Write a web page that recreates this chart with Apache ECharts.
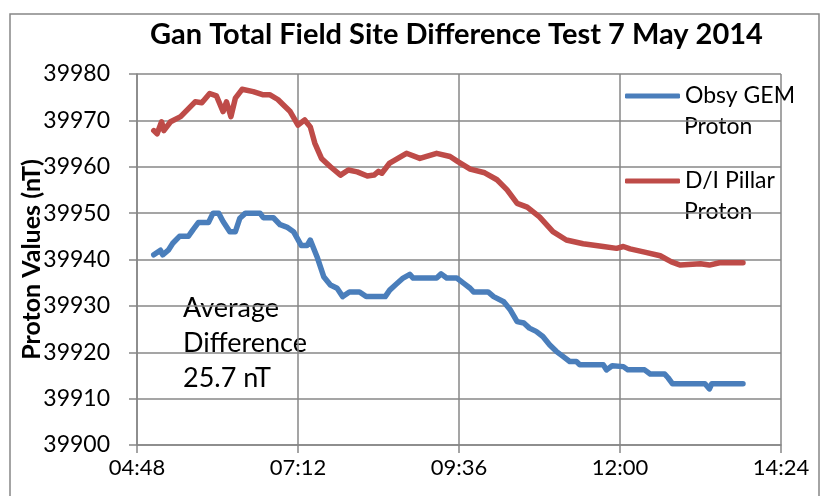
<!DOCTYPE html>
<html>
<head>
<meta charset="utf-8">
<title>Gan Total Field Site Difference Test</title>
<script src="https://cdn.jsdelivr.net/npm/echarts@6.0.0/dist/echarts.min.js"></script>
<style>
	html, body { margin: 0; padding: 0; background: #fff; }
	#chart { width: 829px; height: 496px; }
</style>
</head>
<body>
<div id="chart"></div>
<script>
	// x tick labels (every 2h24m)
	var xTicks = ['04:48', '07:12', '09:36', '12:00', '14:24'];
	var yTicks = [39900, 39910, 39920, 39930, 39940, 39950, 39960, 39970, 39980];

	// Obsy GEM Proton
	var gemTimes = ['05:03', '05:09', '05:11', '05:16', '05:20', '05:26', '05:34', '05:38', '05:43', '05:52',
		'05:56', '06:01', '06:05', '06:11', '06:16', '06:20', '06:25', '06:38', '06:41', '06:50',
		'06:56', '07:02', '07:08', '07:15', '07:20', '07:23', '07:29', '07:35', '07:41', '07:47',
		'07:52', '07:58', '08:07', '08:13', '08:30', '08:34', '08:40', '08:46', '08:52', '08:55',
		'09:16', '09:20', '09:25', '09:34', '09:40', '09:46', '09:49', '10:02', '10:07', '10:16',
		'10:22', '10:28', '10:34', '10:39', '10:45', '10:51', '10:57', '11:03', '11:09', '11:15',
		'11:21', '11:24', '11:45', '11:48', '11:53', '12:03', '12:07', '12:22', '12:27', '12:40',
		'12:43', '12:47', '13:16', '13:20', '13:22', '13:50'];
	var gemValues = [39941, 39942, 39941, 39942, 39943.5, 39945, 39945, 39946.4, 39948, 39948,
		39950, 39950, 39948.2, 39946, 39946, 39948.9, 39950, 39950, 39949, 39949,
		39947.5, 39947, 39946, 39943, 39943, 39944.2, 39940.6, 39936.3, 39934.5, 39933.8,
		39932, 39933, 39933, 39932, 39932, 39933.4, 39934.7, 39936, 39936.8, 39936,
		39936, 39936.9, 39936, 39936, 39934.9, 39933.8, 39933, 39933, 39932, 39930.9,
		39929.1, 39926.6, 39926.3, 39925.2, 39924.5, 39923.4, 39921.6, 39920.2, 39919.1, 39918,
		39918, 39917.3, 39917.3, 39916.2, 39917.1, 39916.9, 39916.2, 39916.2, 39915.3, 39915.3,
		39914.5, 39913.2, 39913.2, 39912.1, 39913.2, 39913.2];

	// D/I Pillar Proton
	var pillarTimes = ['05:03', '05:06', '05:10', '05:12', '05:18', '05:27', '05:40', '05:46', '05:53', '05:59',
		'06:05', '06:08', '06:12', '06:16', '06:22', '06:32', '06:41', '06:47', '06:54', '06:59',
		'07:05', '07:12', '07:18', '07:23', '07:27', '07:33', '07:41', '07:50', '07:57', '08:05',
		'08:14', '08:20', '08:24', '08:27', '08:34', '08:49', '09:01', '09:16', '09:28', '09:35',
		'09:46', '09:59', '10:10', '10:19', '10:28', '10:37', '10:48', '11:00', '11:12', '11:27',
		'11:45', '11:57', '12:03', '12:09', '12:22', '12:36', '12:46', '12:54', '13:12', '13:20',
		'13:29', '13:50'];
	var pillarValues = [39967.8, 39967.1, 39969.7, 39967.8, 39969.7, 39970.8, 39974.0, 39973.8, 39975.8, 39975.3,
		39971.9, 39974.0, 39970.8, 39974.8, 39976.7, 39976.2, 39975.5, 39975.5, 39974.5, 39973.3,
		39971.9, 39969.0, 39970.1, 39968.6, 39965.1, 39961.8, 39960.0, 39958.2, 39959.3, 39958.9,
		39958.0, 39958.2, 39959.0, 39958.6, 39960.8, 39962.9, 39961.8, 39962.9, 39962.2, 39961.1,
		39959.5, 39958.7, 39957.2, 39955.0, 39952.1, 39951.3, 39949.2, 39946.0, 39944.2, 39943.4,
		39942.8, 39942.4, 39942.8, 39942.3, 39941.6, 39940.8, 39939.5, 39938.8, 39939.1, 39938.8,
		39939.3, 39939.3];

	function toMin(s) {
		var p = s.split(':');
		return parseInt(p[0], 10) * 60 + parseInt(p[1], 10);
	}
	function toHHMM(m) {
		var h = Math.floor(m / 60), mm = Math.round(m % 60);
		return (h < 10 ? '0' : '') + h + ':' + (mm < 10 ? '0' : '') + mm;
	}
	function pairs(times, vals) {
		return times.map(function (t, i) { return [toMin(t), vals[i]]; });
	}

	var FONT = 'Lato, "Open Sans", sans-serif';
	var GRID_COLOR = '#878787';
	var xMin = toMin(xTicks[0]), xMax = toMin(xTicks[xTicks.length - 1]);

	var myChart = echarts.init(document.getElementById('chart'));
	var option = {
		backgroundColor: '#fff',
		animation: false,
		color: ['#4a7ebb', '#be4b48'],
		title: {
			text: 'Gan Total Field Site Difference Test 7 May 2014',
			left: 145,
			top: 15,
			textStyle: { fontFamily: FONT, fontWeight: 'bold', fontSize: 29, color: '#000' }
		},
		legend: {
			orient: 'vertical',
			left: 625,
			top: 83,
			icon: 'roundRect',
			itemWidth: 55,
			itemHeight: 5,
			itemGap: 59,
			padding: 0,
			formatter: function (name) { return name.split('\n')[0]; },
			textStyle: { fontFamily: FONT, fontSize: 23, color: '#000', lineHeight: 26 },
			data: ['Obsy GEM\nProton', 'D/I Pillar\nProton']
		},
		grid: { left: 137, right: 48, top: 74, bottom: 51, containLabel: false },
		xAxis: {
			type: 'value',
			min: xMin,
			max: xMax,
			interval: 144,
			axisLine: { lineStyle: { color: GRID_COLOR, width: 1.5 } },
			axisTick: { show: true, length: 8, lineStyle: { color: GRID_COLOR, width: 1.5 } },
			splitLine: { show: true, lineStyle: { color: GRID_COLOR, width: 1.5 } },
			axisLabel: {
				margin: 12,
				fontFamily: FONT, fontSize: 22, color: '#000',
				formatter: function (v) { return toHHMM(v); }
			}
		},
		yAxis: {
			type: 'value',
			min: yTicks[0],
			max: yTicks[yTicks.length - 1],
			interval: 10,
			name: 'Proton Values (nT)',
			nameLocation: 'middle',
			nameGap: 93,
			nameMoveOverlap: false,
			nameTextStyle: { fontFamily: FONT, fontWeight: 'bold', fontSize: 25, color: '#000' },
			axisLine: { show: true, lineStyle: { color: GRID_COLOR, width: 1.5 } },
			axisTick: { show: true, length: 8, lineStyle: { color: GRID_COLOR, width: 1.5 } },
			splitLine: { show: true, lineStyle: { color: GRID_COLOR, width: 1.5 } },
			axisLabel: {
				margin: 27, fontFamily: FONT, fontSize: 23, color: '#000',
				formatter: function (v) { return String(v); }
			}
		},
		graphic: [
			{
				type: 'rect', silent: true, z: -1,
				shape: { x: 10, y: 14, width: 809, height: 520 },
				style: { fill: null, stroke: GRID_COLOR, lineWidth: 1.5 }
			},
			{
				type: 'text', left: 684, top: 115, silent: true,
				style: { text: 'Proton', font: '23px ' + FONT, fill: '#000' }
			},
			{
				type: 'text', left: 684, top: 200, silent: true,
				style: { text: 'Proton', font: '23px ' + FONT, fill: '#000' }
			},
			{
				type: 'text', left: 183, top: 291, silent: true,
				style: { text: 'Average\nDifference\n25.7 nT', font: '27px ' + FONT, fill: '#000', lineHeight: 35 }
			}
		],
		series: [
			{
				name: 'Obsy GEM\nProton',
				type: 'line',
				symbol: 'none',
				lineStyle: { width: 5.5, cap: 'round', join: 'round' },
				data: pairs(gemTimes, gemValues)
			},
			{
				name: 'D/I Pillar\nProton',
				type: 'line',
				symbol: 'none',
				lineStyle: { width: 5.5, cap: 'round', join: 'round' },
				data: pairs(pillarTimes, pillarValues)
			}
		]
	};
	myChart.setOption(option);
</script>
</body>
</html>
